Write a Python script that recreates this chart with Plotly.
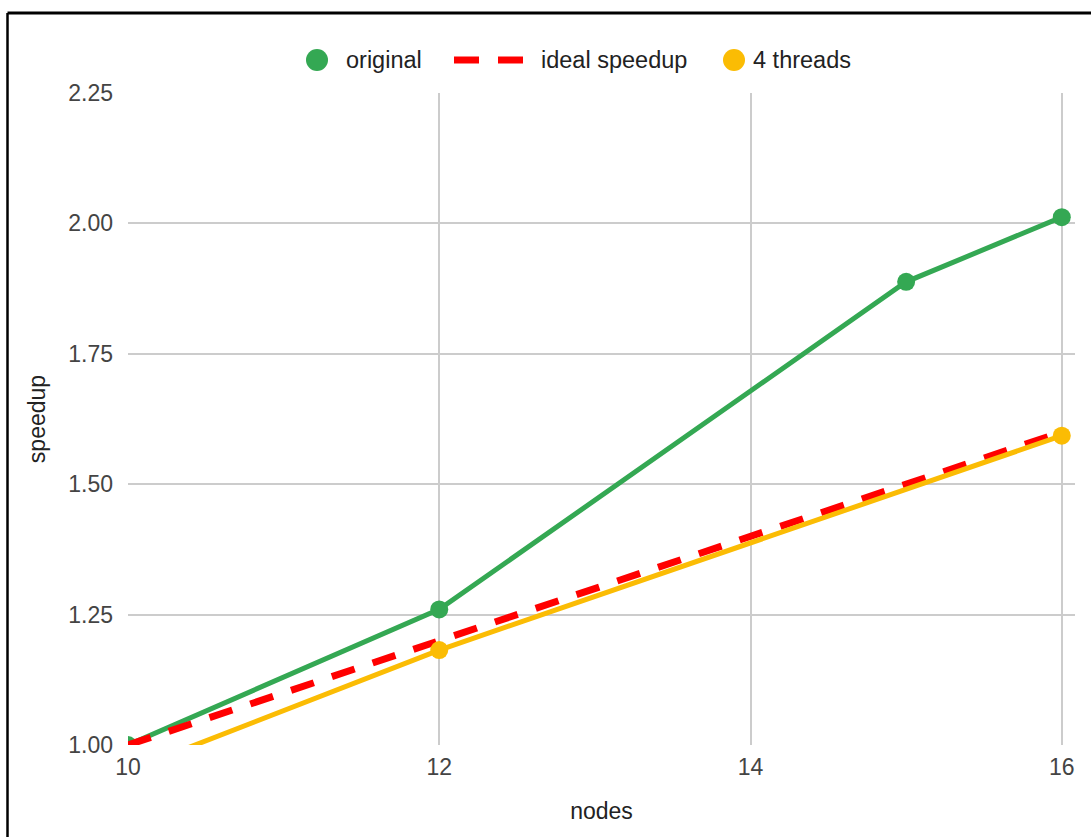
import plotly.graph_objects as go

nodes_original = [10, 12, 15, 16]
speedup_original = [1.00, 1.26, 1.888, 2.012]

nodes_ideal = [10, 12, 14, 16]
speedup_ideal = [1.00, 1.20, 1.40, 1.60]

nodes_4threads = [10, 12, 16]
speedup_4threads = [0.95, 1.182, 1.593]

y_ticks = [1.00, 1.25, 1.50, 1.75, 2.00, 2.25]
y_tick_text = ["1.00", "1.25", "1.50", "1.75", "2.00", "2.25"]
x_ticks = [10, 12, 14, 16]

series_names = ["original", "ideal speedup", "4 threads"]

GREEN = "#34A853"
RED = "#FF0000"
YELLOW = "#FBBC04"

# plot area in pixels: left 128, right 1075, top 93, bottom 745
L, R, T, B = 128, 1075, 93, 745
W, H = 1091, 837
pw, ph = R - L, B - T


def px_x(p):
    return (p - L) / pw


def px_y(p):
    return (B - p) / ph


fig = go.Figure()
fig.add_trace(go.Scatter(
    x=nodes_original, y=speedup_original, name=series_names[0],
    mode="lines+markers", showlegend=False,
    line=dict(color=GREEN, width=5),
    marker=dict(color=GREEN, size=18),
))
fig.add_trace(go.Scatter(
    x=nodes_ideal, y=speedup_ideal, name=series_names[1],
    mode="lines", showlegend=False,
    line=dict(color=RED, width=7, dash="24px,19px"),
))
fig.add_trace(go.Scatter(
    x=nodes_4threads, y=speedup_4threads, name=series_names[2],
    mode="lines+markers", showlegend=False,
    line=dict(color=YELLOW, width=5),
    marker=dict(color=YELLOW, size=18),
))

# border (top and left) of the screenshot frame
fig.add_shape(type="line", xref="paper", yref="paper",
              x0=px_x(7.5), x1=px_x(1095), y0=px_y(13), y1=px_y(13),
              line=dict(color="black", width=3), layer="above")
fig.add_shape(type="line", xref="paper", yref="paper",
              x0=px_x(7.5), x1=px_x(7.5), y0=px_y(13), y1=px_y(850),
              line=dict(color="black", width=2.5), layer="above")

# legend (drawn at the top centre)
LEG_Y = 60
LEG_FONT = dict(size=23.5, color="#222222", family="Liberation Sans, Arial, sans-serif")
fig.add_shape(type="circle", xref="paper", yref="paper",
              x0=px_x(306), x1=px_x(328), y0=px_y(LEG_Y + 11), y1=px_y(LEG_Y - 11),
              fillcolor=GREEN, line=dict(width=0))
fig.add_annotation(xref="paper", yref="paper", x=px_x(344), y=px_y(LEG_Y),
                   xanchor="left", yanchor="middle", showarrow=False,
                   text=series_names[0], font=LEG_FONT)
for a, b in [(454, 479), (498, 523)]:
    fig.add_shape(type="line", xref="paper", yref="paper",
                  x0=px_x(a), x1=px_x(b), y0=px_y(LEG_Y), y1=px_y(LEG_Y),
                  line=dict(color=RED, width=7))
fig.add_annotation(xref="paper", yref="paper", x=px_x(539), y=px_y(LEG_Y),
                   xanchor="left", yanchor="middle", showarrow=False,
                   text=series_names[1], font=LEG_FONT)
fig.add_shape(type="circle", xref="paper", yref="paper",
              x0=px_x(723), x1=px_x(745), y0=px_y(LEG_Y + 11), y1=px_y(LEG_Y - 11),
              fillcolor=YELLOW, line=dict(width=0))
fig.add_annotation(xref="paper", yref="paper", x=px_x(751), y=px_y(LEG_Y),
                   xanchor="left", yanchor="middle", showarrow=False,
                   text=series_names[2], font=LEG_FONT)

fig.update_layout(
    width=W, height=H,
    margin=dict(l=L, r=W - R, t=T, b=H - B),
    paper_bgcolor="white", plot_bgcolor="white",
    font=dict(family="Liberation Sans, Arial, sans-serif", color="#444444"),
    showlegend=False,
    xaxis=dict(
        range=[10, 16.085], tickvals=x_ticks,
        showgrid=True, gridcolor="#CCCCCC", gridwidth=1.5,
        zeroline=False, showline=False,
        tickfont=dict(size=23, color="#444444"),
        ticks="", ticklabelstandoff=6,
        title=dict(text="nodes", font=dict(size=23, color="#222222"), standoff=23),
    ),
    yaxis=dict(
        range=[1.0, 2.25], tickvals=y_ticks, ticktext=y_tick_text,
        showgrid=True, gridcolor="#CCCCCC", gridwidth=1.5,
        zeroline=False, showline=False,
        tickfont=dict(size=23, color="#444444"),
        ticks="", ticklabelstandoff=14,
        title=dict(text="speedup", font=dict(size=23, color="#222222"), standoff=16),
    ),
)

fig.write_html("out.html")
